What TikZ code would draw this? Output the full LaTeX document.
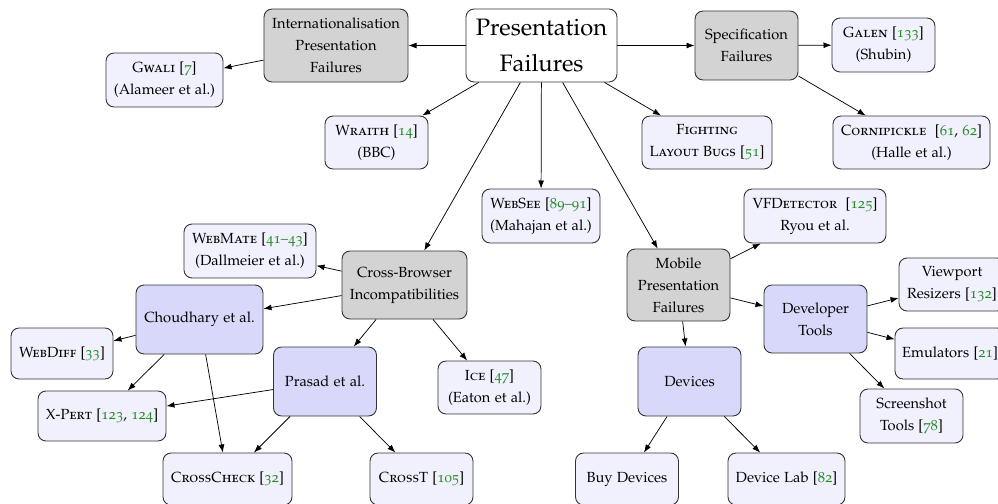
\documentclass[tikz,border=0pt]{standalone}
\usepackage[T1]{fontenc}
\usepackage[osf,sc]{mathpazo}
\usetikzlibrary{arrows.meta}

\definecolor{citegreen}{RGB}{40,140,40}
\definecolor{leaffill}{RGB}{241,241,253}
\definecolor{authfill}{RGB}{216,216,250}
\definecolor{catfill}{RGB}{211,211,211}
\newcommand{\cit}[1]{\textcolor{citegreen}{#1}}

\begin{document}
\begin{tikzpicture}[x=0.682pt,y=-0.682pt,
  boxbase/.style={font=\fontsize{10}{15}\selectfont, align=center,
    rounded corners=5.5pt, draw=black!80, line width=0.6pt, inner sep=2pt},
  rootbox/.style={boxbase, fill=white, font=\fontsize{16.2}{25}\selectfont},
  catbox/.style={boxbase, fill=catfill},
  authbox/.style={boxbase, fill=authfill},
  leafbox/.style={boxbase, fill=leaffill},
  sz/.style 2 args={minimum width=#1*0.682pt, minimum height=#2*0.682pt},
  link/.style={-{Latex[length=5.5pt,width=4pt]}, line width=0.5pt, draw=black}]

\useasboundingbox (0,0) rectangle (998,503);

% top level
\node[rootbox, sz={151}{73}] (root) at (541.5,45.5) {Presentation\\Failures};
\node[catbox, sz={144}{73}] (intl) at (336,45.5) {Internationalisation\\Presentation\\Failures};
\node[leafbox, sz={117}{54}] (gwali) at (164.5,80) {\textsc{Gwali} [\cit{7}]\\(Alameer et al.)};
\node[catbox, sz={103}{69}] (spec) at (746.5,45.5) {Specification\\Failures};
\node[leafbox, sz={103}{54}] (galen) at (883.5,45) {\textsc{Galen} [\cit{133}]\\(Shubin)};
\node[leafbox, sz={157}{53}] (corni) at (911.5,142.5) {\textsc{Cornipickle}~ [\cit{61}, \cit{62}]\\(Halle et al.)};
\node[leafbox, sz={103}{53}] (wraith) at (376.5,142.5) {\textsc{Wraith} [\cit{14}]\\(BBC)};
\node[leafbox, sz={130}{53}] (fight) at (707,142.5) {\textsc{Fighting}\\\textsc{Layout Bugs} [\cit{51}]};
\node[leafbox, sz={118}{54}] (websee) at (541,216) {\textsc{WebSee} [\cit{89--91}]\\(Mahajan et al.)};

% cross-browser branch
\node[catbox, sz={125}{68}] (cross) at (404.5,285) {Cross-Browser\\Incompatibilities};
\node[leafbox, sz={132}{54}] (webmate) at (250,251) {\textsc{WebMate} [\cit{41--43}]\\(Dallmeier et al.)};
\node[authbox, sz={127}{69}] (choud) at (199.5,319.5) {Choudhary et al.};
\node[leafbox, sz={102}{51}] (webdiff) at (62,353.5) {\textsc{WebDiff} [\cit{33}]};
\node[authbox, sz={103}{69}] (prasad) at (325,381.5) {Prasad et al.};
\node[leafbox, sz={128}{50}] (xpert) at (102,416) {\textsc{X-Pert} [\cit{123}, \cit{124}]};
\node[leafbox, sz={129}{52}] (ccheck) at (227.5,479) {\textsc{CrossCheck} [\cit{32}]};
\node[leafbox, sz={103}{52}] (crosst) at (421.5,479) {\textsc{CrossT} [\cit{105}]};
\node[leafbox, sz={103}{53}] (ice) at (489.5,387.5) {\textsc{Ice} [\cit{47}]\\(Eaton et al.)};

% mobile branch
\node[catbox, sz={103}{72}] (mobile) at (678.5,285) {Mobile\\Presentation\\Failures};
\node[leafbox, sz={142}{54}] (vfd) at (815,216) {\textsc{VFDetector}~ [\cit{125}]\\Ryou et al.};
\node[authbox, sz={103}{69}] (devices) at (689.5,381.5) {Devices};
\node[leafbox, sz={103}{52}] (buy) at (627,479) {Buy Devices};
\node[leafbox, sz={117}{52}] (devlab) at (786.5,479) {Device Lab [\cit{82}]};
\node[authbox, sz={103}{68}] (devtools) at (815.5,319) {Developer\\Tools};
\node[leafbox, sz={106}{53}] (viewport) at (952,284.5) {Viewport\\Resizers [\cit{132}]};
\node[leafbox, sz={110}{51}] (emul) at (950,353.5) {Emulators [\cit{21}]};
\node[leafbox, sz={103}{54}] (shot) at (911.5,416) {Screenshot\\Tools [\cit{78}]};

% connectors
\draw[link] (root) -- (intl);
\draw[link] (root) -- (spec);
\draw[link] (root) -- (wraith);
\draw[link] (root) -- (websee);
\draw[link] (root) -- (fight);
\draw[link] (root) -- (cross);
\draw[link] (root) -- (mobile);
\draw[link] (intl) -- (gwali);
\draw[link] (spec) -- (galen);
\draw[link] (spec) -- (corni);

\draw[link] (cross) -- (webmate);
\draw[link] (cross) -- (choud);
\draw[link] (cross) -- (prasad);
\draw[link] (cross) -- (ice);
\draw[link] (choud) -- (webdiff);
\draw[link] (choud) -- (xpert);
\draw[link] (choud) -- (ccheck);
\draw[link] (prasad) -- (xpert);
\draw[link] (prasad) -- (ccheck);
\draw[link] (prasad) -- (crosst);

\draw[link] (mobile) -- (vfd);
\draw[link] (mobile) -- (devtools);
\draw[link] (mobile) -- (devices);
\draw[link] (devices) -- (buy);
\draw[link] (devices) -- (devlab);
\draw[link] (devtools) -- (viewport);
\draw[link] (devtools) -- (emul);
\draw[link] (devtools) -- (shot);
\end{tikzpicture}
\end{document}
